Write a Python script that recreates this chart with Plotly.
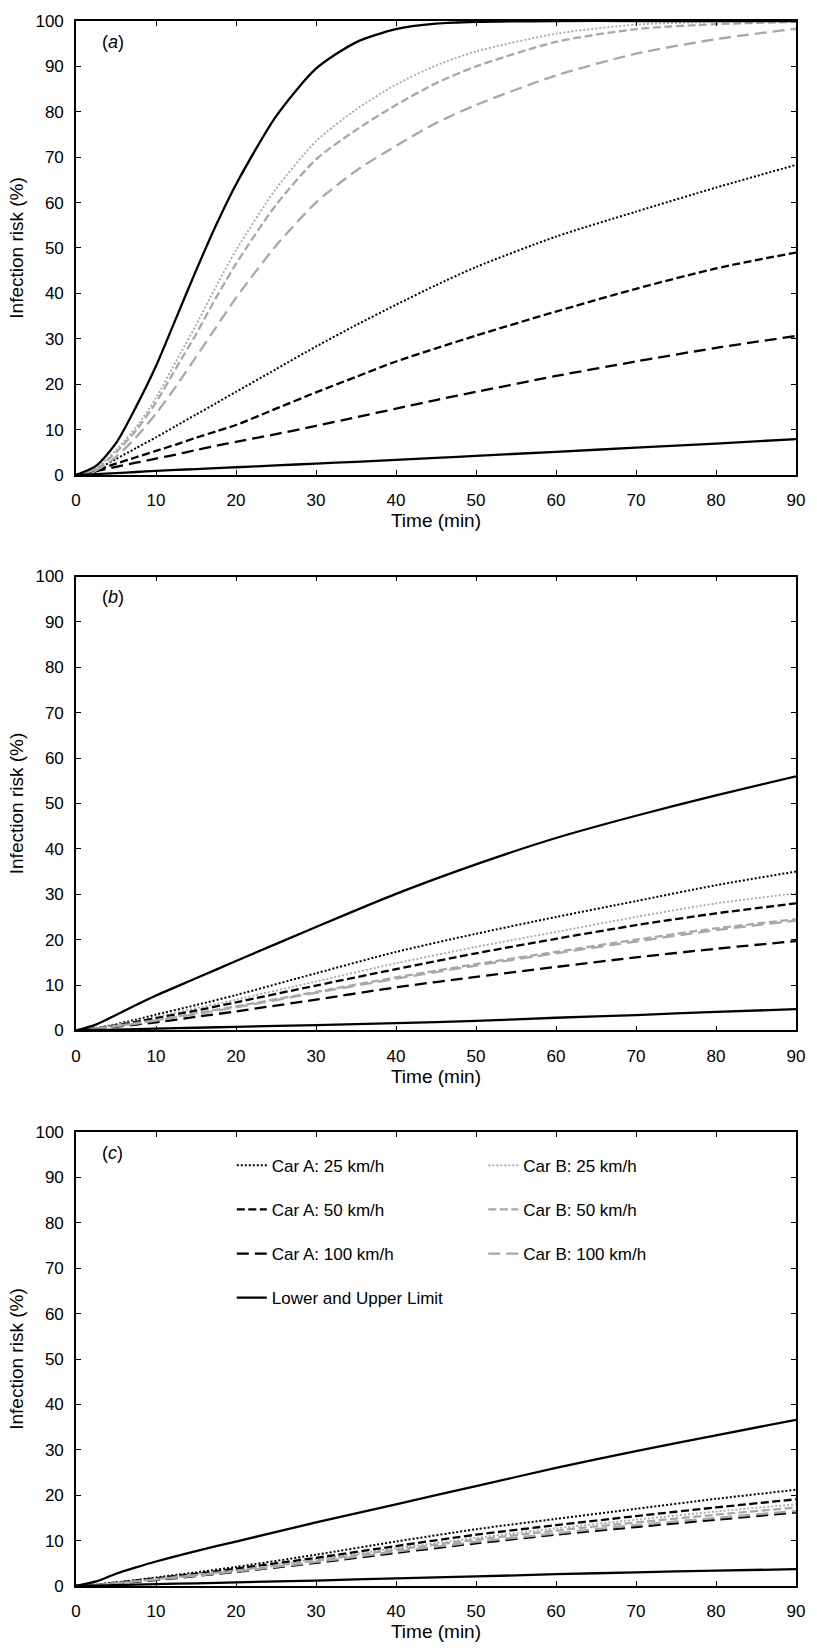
import plotly.graph_objects as go
from plotly.subplots import make_subplots

# time grids (min)
t_a = [0, 2.5, 5, 7.5, 10, 12.5, 15, 17.5, 20, 25, 30, 35, 40, 45, 50, 60, 70, 80, 90]
t_bc = [0, 2.5, 5, 7.5, 10, 15, 20, 30, 40, 50, 60, 70, 80, 90]

# panel (a), infection risk (%)
a_upper = [0, 2, 7, 15, 24, 34.5, 45, 55, 64, 79, 89.5, 95.3, 98.2, 99.4, 99.8, 100, 100, 100, 100]
a_lower = [0, 0.2, 0.4, 0.65, 0.9, 1.1, 1.3, 1.5, 1.7, 2.1, 2.5, 2.9, 3.3, 3.75, 4.2, 5.1, 6, 6.9, 7.9]
a_car_a_25 = [0, 1.2, 3.5, 5.9, 8.3, 10.8, 13.3, 15.8, 18.3, 23.3, 28.3, 33, 37.5, 41.8, 45.8, 52.5, 58, 63.3, 68.3]
a_car_a_50 = [0, 1, 2.5, 3.9, 5.3, 6.7, 8.2, 9.6, 11, 14.6, 18.2, 21.6, 25, 27.9, 30.7, 36, 41, 45.5, 49]
a_car_a_100 = [0, 0.8, 1.8, 2.7, 3.6, 4.5, 5.5, 6.4, 7.3, 9, 10.8, 12.7, 14.6, 16.5, 18.3, 21.8, 25, 28, 30.6]
a_car_b_25 = [0, 1.5, 5.5, 10.5, 17, 25, 33, 41.5, 49.5, 63, 73.5, 80.5, 86, 90.2, 93.3, 97.2, 99.2, 99.8, 100]
a_car_b_50 = [0, 1.3, 5, 9.8, 16, 23.5, 31, 39, 46.5, 59.5, 69.5, 76, 81.5, 86.3, 90, 95.4, 98.2, 99.3, 99.8]
a_car_b_100 = [0, 1, 4, 8.3, 13.5, 19.5, 26, 32.5, 39, 50.5, 60, 67, 72.5, 77.5, 81.5, 88, 92.8, 96, 98.3]

# panel (b)
b_upper = [0, 1.3, 3.4, 5.6, 7.7, 11.5, 15.3, 22.8, 30.1, 36.6, 42.4, 47.3, 51.8, 56]
b_lower = [0, 0.1, 0.2, 0.3, 0.4, 0.6, 0.8, 1.2, 1.6, 2.1, 2.8, 3.4, 4.1, 4.7]
b_car_a_25 = [0, 0.5, 1.4, 2.4, 3.5, 5.6, 7.8, 12.6, 17.3, 21.3, 25, 28.5, 32, 35]
b_car_a_50 = [0, 0.4, 1.1, 1.9, 2.7, 4.4, 6.2, 9.9, 13.5, 17, 20.2, 23.2, 25.8, 28]
b_car_a_100 = [0, 0.3, 0.8, 1.3, 1.8, 3, 4.2, 6.8, 9.5, 11.8, 14, 16.1, 18, 19.7]
b_car_b_25 = [0, 0.45, 1.3, 2.1, 3, 4.9, 6.8, 10.8, 14.8, 18.4, 21.7, 25, 28, 30.2]
b_car_b_50 = [0, 0.35, 1, 1.6, 2.3, 3.8, 5.3, 8.5, 11.7, 14.6, 17.3, 20, 22.5, 24.5]
b_car_b_100 = [0, 0.33, 0.9, 1.5, 2.2, 3.6, 5.1, 8.3, 11.4, 14.3, 17, 19.6, 22.1, 24.2]

# panel (c)
c_upper = [0, 1, 2.7, 4.1, 5.4, 7.7, 9.8, 14, 18, 22, 26, 29.7, 33.2, 36.6]
c_lower = [0, 0.1, 0.2, 0.3, 0.4, 0.6, 0.8, 1.2, 1.7, 2.1, 2.6, 3, 3.4, 3.7]
c_car_a_25 = [0, 0.3, 0.8, 1.3, 1.9, 3, 4.2, 6.9, 9.8, 12.5, 14.8, 17, 19.2, 21.2]
c_car_a_50 = [0, 0.25, 0.7, 1.2, 1.7, 2.7, 3.8, 6.2, 8.8, 11.3, 13.4, 15.4, 17.3, 19.1]
c_car_a_100 = [0, 0.2, 0.55, 0.9, 1.3, 2.2, 3.1, 5.1, 7.3, 9.4, 11.3, 13, 14.6, 16.2]
c_car_b_25 = [0, 0.24, 0.65, 1.1, 1.6, 2.6, 3.6, 5.9, 8.3, 10.6, 12.7, 14.6, 16.4, 18]
c_car_b_50 = [0, 0.22, 0.6, 1, 1.5, 2.4, 3.4, 5.6, 8, 10.2, 12.2, 14, 15.7, 17.3]
c_car_b_100 = [0, 0.2, 0.6, 1, 1.4, 2.3, 3.2, 5.3, 7.6, 9.7, 11.6, 13.4, 15, 16.5]

panel_labels = ["a", "b", "c"]

BLACK = "black"
GREY = "#a8a8a8"
FONT = "Liberation Sans, Arial, sans-serif"

# name -> legend, colour, dash, width
styles = {
    "Car A: 25 km/h": ("legend", BLACK, "2px,2px", 2),
    "Car B: 25 km/h": ("legend2", GREY, "2px,2px", 1.8),
    "Car A: 50 km/h": ("legend", BLACK, "8px,3.5px", 2.3),
    "Car B: 50 km/h": ("legend2", GREY, "8px,3.5px", 2.3),
    "Car A: 100 km/h": ("legend", BLACK, "12px,6px", 2.3),
    "Car B: 100 km/h": ("legend2", GREY, "12px,6px", 2.3),
}

panels = [
    (t_a, [a_car_a_25, a_car_b_25, a_car_a_50, a_car_b_50, a_car_a_100, a_car_b_100], a_upper, a_lower),
    (t_bc, [b_car_a_25, b_car_b_25, b_car_a_50, b_car_b_50, b_car_a_100, b_car_b_100], b_upper, b_lower),
    (t_bc, [c_car_a_25, c_car_b_25, c_car_a_50, c_car_b_50, c_car_a_100, c_car_b_100], c_upper, c_lower),
]

fig = make_subplots(rows=3, cols=1, vertical_spacing=0.0649)

for row, (t, series, upper, lower) in enumerate(panels, start=1):
    show = row == 3
    for name, y in zip(styles, series):
        leg, color, dash, width = styles[name]
        fig.add_trace(go.Scatter(
            x=t, y=y, mode="lines", name=name, legendgroup=name, legend=leg,
            showlegend=show,
            line=dict(color=color, dash=dash, width=width, shape="spline", smoothing=0.7),
        ), row=row, col=1)
    for i, y in enumerate([upper, lower]):
        fig.add_trace(go.Scatter(
            x=t, y=y, mode="lines", name="Lower and Upper Limit",
            legendgroup="limit", legend="legend",
            showlegend=show and i == 0,
            line=dict(color=BLACK, width=2.3, shape="spline", smoothing=0.7),
        ), row=row, col=1)

axis_common = dict(
    showline=True, mirror="allticks", linecolor="black", linewidth=1.6,
    ticks="inside", ticklen=5, tickwidth=1.2, tickcolor="black",
    showgrid=False, zeroline=False,
    tickfont=dict(size=17, color="black", family=FONT),
)
for row in range(1, 4):
    fig.update_xaxes(range=[0, 90], dtick=10, tick0=0, ticklabelstandoff=9,
                     title=dict(text="Time (min)", font=dict(size=19, color="black"), standoff=4),
                     row=row, col=1, **axis_common)
    fig.update_yaxes(range=[0, 100], dtick=10, tick0=0, ticklabelstandoff=7,
                     title=dict(text="Infection risk (%)", font=dict(size=19, color="black"), standoff=7),
                     row=row, col=1, **axis_common)

for i, lab in enumerate(panel_labels):
    suffix = "" if i == 0 else str(i + 1)
    fig.add_annotation(
        text=f"(<i>{lab}</i>)", xref=f"x{suffix} domain", yref=f"y{suffix} domain",
        x=0.033, y=0.954, xanchor="left", yanchor="middle", showarrow=False,
        font=dict(size=18, color="black", family=FONT),
    )

legend_common = dict(
    yref="paper", yanchor="top", xanchor="left",
    bgcolor="rgba(0,0,0,0)", borderwidth=0, tracegroupgap=19,
    font=dict(size=17, color="black", family=FONT),
)
fig.update_layout(
    width=817, height=1651,
    margin=dict(l=76, r=12, t=12, b=60),
    paper_bgcolor="white", plot_bgcolor="white",
    font=dict(family=FONT, color="black"),
    legend=dict(x=0.2164, y=0.280, **legend_common),
    legend2=dict(x=0.5657, y=0.280, **legend_common),
)

fig.write_html(
    "out.html",
    config={"displayModeBar": False},
    post_script="document.body.style.margin = '0';",
)
